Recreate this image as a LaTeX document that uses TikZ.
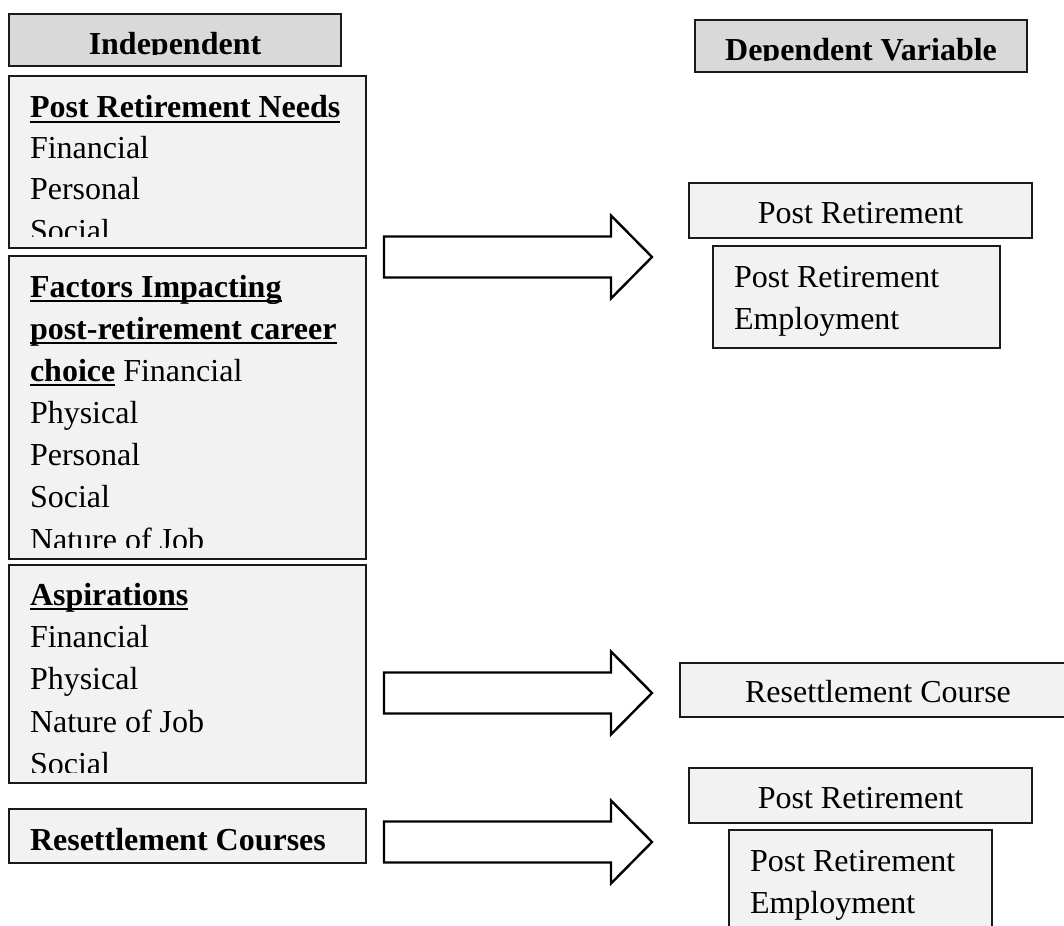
\documentclass[tikz,border=0pt]{standalone}
\usepackage{fontspec}
\setmainfont{Liberation Serif}
\definecolor{panelgray}{HTML}{F2F2F2}
\definecolor{headgray}{HTML}{D9D9D9}
\definecolor{edge}{HTML}{1A1A1A}
% bold heading with a heavy underline bar
\newcommand{\uln}[1]{\setbox0\hbox{#1}\rlap{\rule[-5pt]{\wd0}{2.2pt}}\box0\relax}
% block arrow: #1 = tail x, #2 = axis y
\newcommand{\blockarrow}[2]{%
  \draw[blockarrow] (#1,#2-20.5) -- ++(227,0) -- ++(0,-21) -- (#1+268,#2)
    -- (#1+227,#2+41.5) -- ++(0,-21) -- (#1,#2+20.5) -- cycle;}
\tikzset{
  panel/.style={draw=edge, line width=2.2pt, fill=panelgray, inner sep=0pt,
    outer sep=0pt, anchor=north west},
  headbox/.style={panel, fill=headgray},
  txt/.style={inner sep=0pt, outer sep=0pt, anchor=base west,
    font=\fontsize{32}{40}\selectfont},
  ctxt/.style={txt, anchor=base},
  blockarrow/.style={draw=black, line width=2.4pt, fill=white, line join=miter},
}
\begin{document}
\begin{tikzpicture}[x=1pt, y=-1pt]
\useasboundingbox (0,0) rectangle (1064,925);
\clip (0,0) rectangle (1064,925);

% ---------- left column: independent variables ----------
\node[headbox, minimum width=332, minimum height=52] (indep) at (9,14) {};
\begin{scope}
  \clip (9,14) rectangle (341,55);
  \node[ctxt] (indepT) at (175,54.5) {\bfseries Independent};
\end{scope}

\node[panel, minimum width=357, minimum height=172] (needs) at (9,76) {};
\begin{scope}
  \clip (9,76) rectangle (366,236);
  \node[txt] (n1) at (30,118) {\uln{\bfseries Post Retirement Needs}};
  \node[txt] (n2) at (30,159) {Financial};
  \node[txt] (n3) at (30,200) {Personal};
  \node[txt] (n4) at (30,241) {Social};
\end{scope}

\node[panel, minimum width=357, minimum height=303] (factors) at (9,256) {};
\begin{scope}
  \clip (9,256) rectangle (366,547);
  \node[txt] (f1) at (30,297) {\uln{\bfseries Factors Impacting}};
  \node[txt] (f2) at (30,339) {\uln{\bfseries post-retirement career}};
  \node[txt] (f3) at (30,381) {\uln{\bfseries choice}\ Financial};
  \node[txt] (f4) at (30,423) {Physical};
  \node[txt] (f5) at (30,465) {Personal};
  \node[txt] (f6) at (30,507) {Social};
  \node[txt] (f7) at (30,550) {Nature of Job};
\end{scope}

\node[panel, minimum width=357, minimum height=218] (asp) at (9,565) {};
\begin{scope}
  \clip (9,565) rectangle (366,772);
  \node[txt] (s1) at (30,605) {\uln{\bfseries Aspirations}};
  \node[txt] (s2) at (30,647) {Financial};
  \node[txt] (s3) at (30,689) {Physical};
  \node[txt] (s4) at (30,732) {Nature of Job};
  \node[txt] (s5) at (30,774) {Social};
\end{scope}

\node[panel, minimum width=357, minimum height=54] (rcourses) at (9,809) {};
\node[txt] (rcT) at (30,850) {\bfseries Resettlement Courses};

% ---------- block arrows ----------
\blockarrow{384}{257}
\blockarrow{384}{693}
\blockarrow{384}{842}

% ---------- right column: dependent variables ----------
\node[headbox, minimum width=332, minimum height=52] (dep) at (695,20) {};
\begin{scope}
  \clip (695,20) rectangle (1027,61);
  \node[ctxt] (depT) at (861,60.5) {\bfseries Dependent Variable};
\end{scope}

\node[panel, minimum width=343, minimum height=55] (pr1) at (689,183) {};
\node[ctxt] (pr1T) at (860.5,223) {Post Retirement};

\node[panel, minimum width=287, minimum height=102] (pre1) at (713,246) {};
\node[txt] (pre1a) at (734,287) {Post Retirement};
\node[txt] (pre1b) at (734,329) {Employment};

\node[panel, minimum width=396, minimum height=54] (rc) at (680,663) {};
\node[ctxt] (rcT2) at (878,702) {Resettlement Course};

\node[panel, minimum width=343, minimum height=55] (pr2) at (689,768) {};
\node[ctxt] (pr2T) at (860.5,808) {Post Retirement};

\node[panel, minimum width=263, minimum height=110] (pre2) at (729,830) {};
\node[txt] (pre2a) at (750,871) {Post Retirement};
\node[txt] (pre2b) at (750,913) {Employment};
\end{tikzpicture}
\end{document}
